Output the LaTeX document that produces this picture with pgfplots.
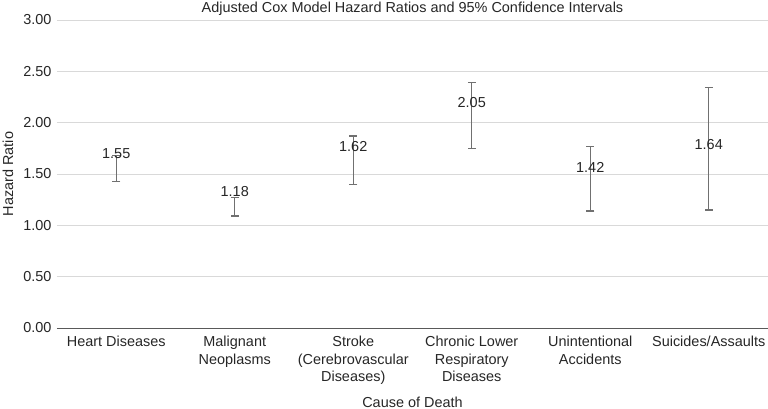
\documentclass[border=0pt]{standalone}
\usepackage{pgfplots}
\pgfplotsset{compat=1.18}
\usepackage{pgfplotstable}
\usepackage{fontspec}
\setmainfont{Liberation Sans}
\definecolor{txt}{HTML}{262626}
\definecolor{gridc}{HTML}{D9D9D9}
\definecolor{axc}{HTML}{595959}
\definecolor{errc}{HTML}{707070}
\pgfplotstableread{
x y ep em
0 1.55 0.13 0.12
1 1.18 0.09 0.09
2 1.62 0.25 0.22
3 2.05 0.34 0.30
4 1.42 0.35 0.28
5 1.64 0.70 0.49
}\hrdata
\begin{document}
\begin{tikzpicture}
\begin{axis}[
  scale only axis,
  width=711bp, height=308bp,
  at={(0,0)}, anchor=south west,
  xmin=-0.5, xmax=5.5,
  ymin=0, ymax=3,
  ytick={0,0.5,...,3},
  xtick={0,1,2,3,4,5},
  xticklabels={Heart Diseases,{Malignant\\Neoplasms},{Stroke\\(Cerebrovascular\\Diseases)},{Chronic Lower\\Respiratory\\Diseases},{Unintentional\\Accidents},Suicides/Assaults},
  xticklabel style={align=center, font=\fontsize{14.5}{17.5}\selectfont, text=txt, yshift=-5bp},
  yticklabel style={font=\fontsize{14.5}{17}\selectfont, text=txt, xshift=-2bp},
  /pgf/number format/assume math mode=true,
  yticklabel={\pgfmathprintnumber[fixed,fixed zerofill,precision=2]{\tick}},
  ymajorgrids, major grid style={color=gridc, line width=0.8bp},
  axis x line*=bottom, axis y line*=left,
  x axis line style={-, color=axc, line width=1bp},
  y axis line style={draw=none},
  major tick length=0pt,
  title={Adjusted Cox Model Hazard Ratios and 95\% Confidence Intervals},
  title style={at={(rel axis cs:0.5,1)}, anchor=base, yshift=2bp, font=\fontsize{14.5}{16}\selectfont, text=txt},
  xlabel={Cause of Death},
  xlabel style={at={(rel axis cs:0.5,0)}, anchor=center, yshift=-74bp, font=\fontsize{14.5}{17}\selectfont, text=txt},
  clip=false,
]
\addplot[draw=none, mark=none,
  nodes near coords={\pgfmathprintnumber[fixed,fixed zerofill,precision=2]{\pgfplotspointmeta}},
  nodes near coords style={anchor=center, yshift=15bp, font=\fontsize{14.5}{17}\selectfont, text=txt},
  error bars/.cd, y dir=both, y explicit,
  error bar style={color=errc, line width=1.2bp},
  error mark options={rotate=90, mark size=4bp, color=errc, line width=1.2bp}
] table[x=x, y=y, y error plus=ep, y error minus=em] {\hrdata};
\end{axis}
\node[rotate=90, font=\fontsize{14.5}{17}\selectfont, text=txt] at (-49bp,154bp) {Hazard Ratio};
\pgfresetboundingbox
\path[use as bounding box] (-57bp,-81bp) rectangle (711bp,328bp);
\end{tikzpicture}
\end{document}
